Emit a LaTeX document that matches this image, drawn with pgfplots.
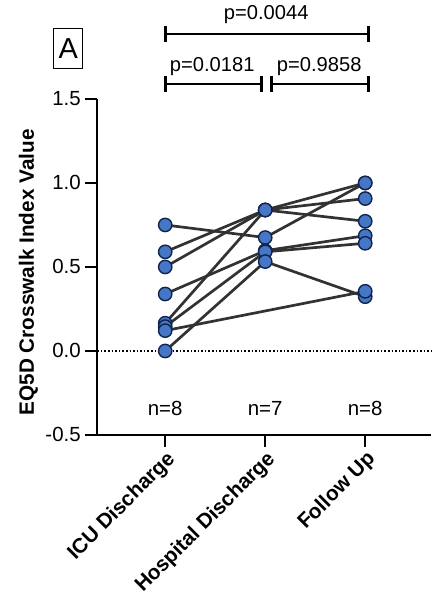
\documentclass[border=0pt]{standalone}
\usepackage{pgfplots}
\pgfplotsset{compat=1.18}
\usepackage{pgfplotstable}
\usepackage{fontspec}
\setmainfont{Liberation Sans}
\definecolor{ptfill}{RGB}{70,118,198}
\definecolor{ptedge}{RGB}{16,36,76}
\definecolor{ln}{RGB}{50,50,50}

% columns: x (0=ICU, 1=Hospital, 2=Follow up), y
\pgfplotstableread{
x y
0 0.750
1 0.675
2 1.000
}\pA
\pgfplotstableread{
x y
0 0.590
1 0.839
2 0.907
}\pB
\pgfplotstableread{
x y
0 0.500
1 0.839
2 0.772
}\pC
\pgfplotstableread{
x y
0 0.165
1 0.839
2 1.000
}\pD
\pgfplotstableread{
x y
0 0.339
1 0.597
2 0.686
}\pE
\pgfplotstableread{
x y
0 0.145
1 0.590
2 0.641
}\pF
\pgfplotstableread{
x y
0 0.000
1 0.532
2 0.323
}\pG
\pgfplotstableread{
x y
0 0.121
2 0.355
}\pH

\pgfplotsset{
  lnstyle/.style={ln, line width=2.7pt, no markers},
  mkstyle/.style={only marks, mark=*, mark size=6.7pt, mark options={fill=ptfill, draw=ptedge, line width=1.4pt}},
}

\begin{document}
\begin{tikzpicture}
\begin{axis}[
  scale only axis, width=335pt, height=337pt,
  xmin=-0.68, xmax=2.66, ymin=-0.5, ymax=1.5,
  axis x line*=bottom, axis y line*=left,
  axis line style={line width=1.6pt, black},
  xtick={0,1,2},
  xticklabels={ICU Discharge, Hospital Discharge, Follow Up},
  ytick={-0.5,0,0.5,1,1.5},
  yticklabels={-0.5,0.0,0.5,1.0,1.5},
  tick align=outside, major tick length=12pt,
  tick style={line width=1.6pt, black},
  yticklabel style={font=\fontsize{20.5}{24}\selectfont, xshift=-1pt},
  xticklabel style={font=\fontsize{20.8}{24}\selectfont\bfseries, rotate=45, anchor=north east, inner sep=1.5pt},
  ylabel={EQ5D Crosswalk Index Value},
  ylabel style={font=\fontsize{20.8}{24}\selectfont\bfseries, at={(axis description cs:-0.206,0.484)}, anchor=center, rotate=0},
  clip=false,
]
% invisible frame that matches the reference's margins
\path (axis cs:-1.652,2.089) rectangle (axis cs:2.706,-1.470);
% zero line
\draw[dotted, line width=1.6pt] (axis cs:-0.68,0) -- (axis cs:2.66,0);
% lines
\addplot[lnstyle] table[x=x,y=y] {\pA};
\addplot[lnstyle] table[x=x,y=y] {\pB};
\addplot[lnstyle] table[x=x,y=y] {\pC};
\addplot[lnstyle] table[x=x,y=y] {\pD};
\addplot[lnstyle] table[x=x,y=y] {\pE};
\addplot[lnstyle] table[x=x,y=y] {\pF};
\addplot[lnstyle] table[x=x,y=y] {\pG};
\addplot[lnstyle] table[x=x,y=y] {\pH};
% markers
\addplot[mkstyle] table[x=x,y=y] {\pA};
\addplot[mkstyle] table[x=x,y=y] {\pB};
\addplot[mkstyle] table[x=x,y=y] {\pC};
\addplot[mkstyle] table[x=x,y=y] {\pD};
\addplot[mkstyle] table[x=x,y=y] {\pE};
\addplot[mkstyle] table[x=x,y=y] {\pF};
\addplot[mkstyle] table[x=x,y=y] {\pG};
\addplot[mkstyle] table[x=x,y=y] {\pH};
% n labels
\node[font=\fontsize{20.5}{24}\selectfont] at (axis cs:0,-0.34) {n=8};
\node[font=\fontsize{20.5}{24}\selectfont] at (axis cs:1,-0.34) {n=7};
\node[font=\fontsize{20.5}{24}\selectfont] at (axis cs:2,-0.34) {n=8};
% significance brackets
\draw[line width=2.8pt] (axis cs:0,1.887) -- (axis cs:2.03,1.887);
\draw[line width=2.8pt] (axis cs:0,1.840) -- (axis cs:0,1.935);
\draw[line width=2.8pt] (axis cs:2.03,1.840) -- (axis cs:2.03,1.935);
\node[font=\fontsize{20.2}{24}\selectfont] at (axis cs:1.01,2.003) {p=0.0044};
\draw[line width=2.8pt] (axis cs:0,1.589) -- (axis cs:0.965,1.589);
\draw[line width=2.8pt] (axis cs:0,1.542) -- (axis cs:0,1.637);
\draw[line width=2.8pt] (axis cs:0.965,1.542) -- (axis cs:0.965,1.637);
\node[font=\fontsize{20.2}{24}\selectfont] at (axis cs:0.47,1.69) {p=0.0181};
\draw[line width=2.8pt] (axis cs:1.065,1.589) -- (axis cs:2.03,1.589);
\draw[line width=2.8pt] (axis cs:1.065,1.542) -- (axis cs:1.065,1.637);
\draw[line width=2.8pt] (axis cs:2.03,1.542) -- (axis cs:2.03,1.637);
\node[font=\fontsize{20.2}{24}\selectfont] at (axis cs:1.54,1.69) {p=0.9858};
% panel letter
\node[draw, line width=1.4pt, font=\fontsize{29}{32}\selectfont, inner sep=3pt, minimum width=29pt, minimum height=40pt] at (axis cs:-0.97,1.80) {A};
\end{axis}
\end{tikzpicture}
\end{document}
